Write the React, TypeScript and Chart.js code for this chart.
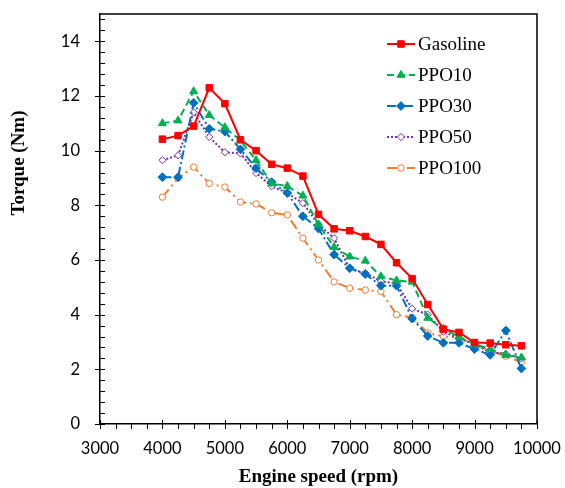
import React, { useEffect, useRef } from 'react';
import { Chart, registerables } from 'chart.js';
import { drawPoint } from 'chart.js/helpers';

Chart.register(...registerables);

// ---- data ----
const rpm = [4000, 4250, 4500, 4750, 5000, 5250, 5500, 5750, 6000, 6250, 6500, 6750, 7000, 7250, 7500, 7750, 8000, 8250, 8500, 8750, 9000, 9250, 9500, 9750];
const gasoline = [10.42, 10.55, 10.9, 12.3, 11.72, 10.4, 10.0, 9.5, 9.36, 9.07, 7.67, 7.14, 7.07, 6.86, 6.57, 5.9, 5.32, 4.37, 3.47, 3.35, 2.98, 2.96, 2.9, 2.86];
const ppo10 = [11.0, 11.1, 12.17, 11.3, 10.85, 10.37, 9.65, 8.8, 8.7, 8.35, 7.3, 6.47, 6.12, 5.97, 5.4, 5.25, 5.2, 3.88, 3.48, 3.19, 2.93, 2.74, 2.52, 2.43];
const ppo30 = [9.03, 9.03, 11.75, 10.8, 10.7, 10.05, 9.36, 8.85, 8.45, 7.6, 7.15, 6.2, 5.7, 5.48, 5.06, 5.06, 3.86, 3.22, 2.97, 2.97, 2.74, 2.53, 3.42, 2.03];
const ppo50 = [9.65, 9.83, 11.4, 10.5, 9.94, 9.9, 9.18, 8.7, 8.45, 8.08, 7.3, 6.8, 5.68, 5.52, 5.22, 5.14, 4.22, 4.0, 3.38, 3.13, 2.92, 2.62, 2.57, 2.4];
const ppo100 = [8.3, 9.0, 9.4, 8.8, 8.67, 8.12, 8.05, 7.73, 7.65, 6.8, 6.0, 5.2, 4.97, 4.9, 4.85, 4.0, 3.9, 3.33, 3.2, 3.16, 2.92, 2.68, 2.48, 2.26];

const seriesNames = ['Gasoline', 'PPO10', 'PPO30', 'PPO50', 'PPO100'];
const seriesValues = [gasoline, ppo10, ppo30, ppo50, ppo100];

const xTitle = 'Engine speed (rpm)';
const yTitle = 'Torque (Nm)';
const X_MIN = 3000, X_MAX = 10000, X_MAJOR = 1000, X_MINOR = 250;
const Y_MIN = 0, Y_MAX = 15, Y_MAJOR = 2, Y_MINOR = 0.4, Y_LABEL_MAX = 14;

// ---- styles ----
const styles = [
  { color: '#FF0000', dash: [], pointStyle: 'rect', radius: 4.6, bg: '#FF0000', bw: 1 },
  { color: '#00B050', dash: [7, 4], pointStyle: 'triangle', radius: 4.6, bg: '#00B050', bw: 1 },
  { color: '#0070C0', dash: [9, 3, 2, 3], pointStyle: 'rectRot', radius: 4.4, bg: '#0070C0', bw: 1 },
  { color: '#7030A0', dash: [2, 2], pointStyle: 'rectRot', radius: 3.6, bg: '#ffffff', bw: 1 },
  { color: '#ED7D31', dash: [10, 4, 2, 4], pointStyle: 'circle', radius: 3.2, bg: '#ffffff', bw: 1 },
];

const tickFont = { family: 'Lato, "Liberation Sans", sans-serif', size: 16.5 };
const serif = '"Liberation Serif", "Times New Roman", serif';

const decorPlugin = {
  id: 'decor',
  afterDraw(chart: any) {
    const { ctx, chartArea, scales } = chart;
    const { left, right, top, bottom } = chartArea;
    const x = scales.x;
    const y = scales.y;
    ctx.save();
    ctx.strokeStyle = '#000';
    ctx.lineWidth = 1.5;
    ctx.setLineDash([]);
    ctx.beginPath();
    ctx.moveTo(left, top);
    ctx.lineTo(right, top);
    ctx.lineTo(right, bottom);
    ctx.stroke();

    ctx.lineWidth = 1;
    ctx.beginPath();
    for (let v = X_MIN; v <= X_MAX + 1e-6; v += X_MINOR) {
      const px = Math.round(x.getPixelForValue(v)) + 0.5;
      const major = Math.abs(v % X_MAJOR) < 1e-6;
      ctx.moveTo(px, major ? bottom - 4 : bottom);
      ctx.lineTo(px, bottom + 5);
    }
    for (let v = Y_MIN; v <= Y_MAX + 1e-6; v += Y_MINOR) {
      const py = Math.round(y.getPixelForValue(v)) + 0.5;
      const r = Math.round(v * 10) / 10;
      const major = Math.abs(r % Y_MAJOR) < 1e-6 && r <= Y_LABEL_MAX;
      ctx.moveTo(major ? left - 5 : left, py);
      ctx.lineTo(left + 5, py);
    }
    ctx.stroke();

    // y title
    ctx.fillStyle = '#000';
    ctx.font = `bold 19px ${serif}`;
    ctx.textAlign = 'center';
    ctx.textBaseline = 'middle';
    ctx.translate(19, top + 149);
    ctx.rotate(-Math.PI / 2);
    ctx.fillText(yTitle, 0, 0);
    ctx.restore();

    // legend
    ctx.save();
    const lx0 = right - 150;
    const lx1 = right - 122;
    const ly0 = top + 30;
    const step = 31;
    chart.data.datasets.forEach((ds: any, i: number) => {
      const s = styles[i];
      const yy = ly0 + i * step;
      ctx.strokeStyle = s.color;
      ctx.lineWidth = 2;
      ctx.setLineDash(s.dash);
      ctx.beginPath();
      ctx.moveTo(lx0, yy);
      ctx.lineTo(lx1, yy);
      ctx.stroke();
      ctx.setLineDash([]);
      ctx.fillStyle = s.bg;
      ctx.strokeStyle = s.color;
      ctx.lineWidth = s.bw;
      drawPoint(ctx, { pointStyle: s.pointStyle, radius: s.radius, rotation: 0, borderWidth: s.bw } as any, (lx0 + lx1) / 2, yy);
      ctx.fillStyle = '#000';
      ctx.font = `19px ${serif}`;
      ctx.textAlign = 'left';
      ctx.textBaseline = 'middle';
      ctx.fillText(ds.label, lx1 + 3, yy + 1);
    });
    ctx.restore();
  },
};

const zeroPad = (s: any) => {
  s.paddingTop = 0;
  s.paddingBottom = 0;
  s.paddingLeft = 0;
  s.paddingRight = 0;
};

export default function App() {
  const ref = useRef<HTMLCanvasElement | null>(null);
  useEffect(() => {
    if (!ref.current) return;
    const datasets = seriesNames.map((name, i) => ({
      label: name,
      data: rpm.map((r, j) => ({ x: r, y: seriesValues[i][j] })),
      borderColor: styles[i].color,
      backgroundColor: styles[i].bg,
      borderWidth: 2,
      borderDash: styles[i].dash,
      pointStyle: styles[i].pointStyle,
      pointRadius: styles[i].radius,
      pointBorderWidth: styles[i].bw,
      pointBorderColor: styles[i].color,
      pointBackgroundColor: styles[i].bg,
      tension: 0,
      fill: false,
    }));
    const chart = new Chart(ref.current, {
      type: 'line',
      data: { datasets },
      options: {
        animation: false,
        responsive: false,
        layout: { padding: { left: 0, top: 14, right: 28, bottom: 0 } },
        plugins: { legend: { display: false }, tooltip: { enabled: false } },
        scales: {
          x: {
            type: 'linear',
            min: X_MIN,
            max: X_MAX,
            ticks: { stepSize: X_MAJOR, includeBounds: false, font: tickFont, color: '#000', padding: 15, maxRotation: 0, autoSkip: false, callback: (v: any) => String(v) },
            grid: { display: true, drawOnChartArea: false, drawTicks: false },
            border: { display: true, color: '#000', width: 1.5 },
            title: { display: true, text: xTitle, color: '#000', font: { family: serif, size: 19, weight: 'bold' }, padding: { top: 0, bottom: 0 } },
            afterFit: (s: any) => { s.height = 64; zeroPad(s); },
          },
          y: {
            type: 'linear',
            min: Y_MIN,
            max: Y_MAX,
            ticks: { stepSize: Y_MAJOR, includeBounds: false, font: tickFont, color: '#000', padding: 20, callback: (v: any) => String(v) },
            grid: { display: true, drawOnChartArea: false, drawTicks: false },
            border: { display: true, color: '#000', width: 1.5 },
            afterFit: (s: any) => { s.width = 100; zeroPad(s); },
          },
        },
      } as any,
      plugins: [decorPlugin],
    });
    return () => chart.destroy();
  }, []);
  return (
    <div style={{ position: 'absolute', left: 0, top: 0, width: 565, height: 488, background: '#fff' }}>
      <canvas ref={ref} width={565} height={488} style={{ width: 565, height: 488 }} />
    </div>
  );
}
